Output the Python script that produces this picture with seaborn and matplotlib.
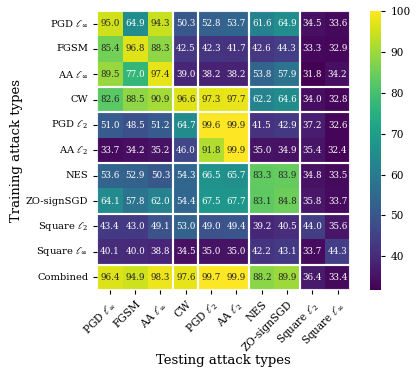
import numpy as np
import pandas as pd
import matplotlib
matplotlib.use('Agg')
import matplotlib.pyplot as plt
import seaborn as sns
from matplotlib.patches import Rectangle

train_labels = [r'PGD $\ell_\infty$', 'FGSM', r'AA $\ell_\infty$', 'CW', r'PGD $\ell_2$',
                r'AA $\ell_2$', 'NES', 'ZO-signSGD', r'Square $\ell_2$', r'Square $\ell_\infty$',
                'Combined']
test_labels = train_labels[:10]

acc = [
    [95.0, 64.9, 94.3, 50.3, 52.8, 53.7, 61.6, 64.9, 34.5, 33.6],
    [85.4, 96.8, 88.3, 42.5, 42.3, 41.7, 42.6, 44.3, 33.3, 32.9],
    [89.5, 77.0, 97.4, 39.0, 38.2, 38.2, 53.8, 57.9, 31.8, 34.2],
    [82.6, 88.5, 90.9, 96.6, 97.3, 97.7, 62.2, 64.6, 34.0, 32.8],
    [51.0, 48.5, 51.2, 64.7, 99.6, 99.9, 41.5, 42.9, 37.2, 32.6],
    [33.7, 34.2, 35.2, 46.0, 91.8, 99.9, 35.0, 34.9, 35.4, 32.4],
    [53.6, 52.9, 50.3, 54.3, 66.5, 65.7, 83.3, 83.9, 34.8, 33.5],
    [64.1, 57.8, 62.0, 54.4, 67.5, 67.7, 83.1, 84.8, 35.8, 33.7],
    [43.4, 43.0, 49.1, 53.0, 49.0, 49.4, 39.2, 40.5, 44.0, 35.6],
    [40.1, 40.0, 38.8, 34.5, 35.0, 35.0, 42.2, 43.1, 33.7, 44.3],
    [96.4, 94.9, 98.3, 97.6, 99.7, 99.9, 88.2, 89.9, 36.4, 33.4],
]

# block boundaries (attack families)
col_groups = [0, 3, 4, 6, 8, 10]
row_groups = [0, 3, 4, 6, 8, 10, 11]

df = pd.DataFrame(acc, index=train_labels, columns=test_labels)

plt.rcParams['font.family'] = 'DejaVu Serif'
plt.rcParams['mathtext.fontset'] = 'dejavuserif'

fig = plt.figure(figsize=(4.19, 3.76), dpi=100)
ax = fig.add_axes([0.232, 0.229, 0.604, 0.742])
cax = fig.add_axes([0.883, 0.229, 0.027, 0.742])

sns.heatmap(df, ax=ax, cbar_ax=cax, cmap='viridis', vmax=100, annot=True, fmt='.1f',
            annot_kws={'fontsize': 6.3})

for i in range(len(row_groups) - 1):
    for j in range(len(col_groups) - 1):
        x0, x1 = col_groups[j], col_groups[j + 1]
        y0, y1 = row_groups[i], row_groups[i + 1]
        ax.add_patch(Rectangle((x0, y0), x1 - x0, y1 - y0, fill=False,
                               edgecolor='white', lw=1.5, alpha=0.9))

ax.set_xticklabels(test_labels, rotation=45, ha='right', rotation_mode='anchor', fontsize=7.6)
ax.set_yticklabels(train_labels, rotation=0, fontsize=7.1)
ax.set_xlabel('Testing attack types', fontsize=9.5, labelpad=1)
ax.set_ylabel('Training attack types', fontsize=9.5, labelpad=2)
ax.tick_params(length=3)
cax.tick_params(labelsize=7.6, length=3)
cax.set_yticks([40, 50, 60, 70, 80, 90, 100])

plt.savefig('out.png', dpi=100)
